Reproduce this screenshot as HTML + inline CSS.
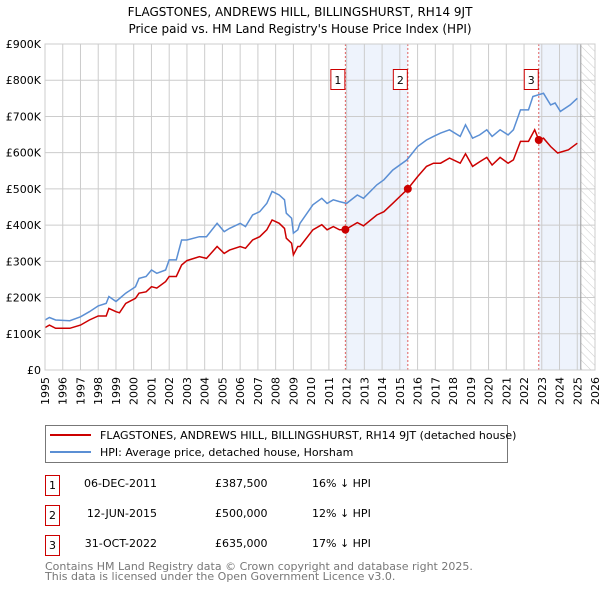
<!DOCTYPE html>
<html><head><meta charset="utf-8"><style>
body{margin:0;background:#fff;}
svg{display:block;font-family:"DejaVu Sans","Liberation Sans",sans-serif;}
</style></head><body>
<svg id="c" width="600" height="590" xmlns="http://www.w3.org/2000/svg">
<defs><pattern id="hatch" width="6" height="6" patternUnits="userSpaceOnUse" patternTransform="rotate(-45)"><line x1="0" y1="0" x2="0" y2="6" stroke="#ccc" stroke-width="1"/></pattern></defs>
<text x="300" y="16" text-anchor="middle" font-size="12">FLAGSTONES, ANDREWS HILL, BILLINGSHURST, RH14 9JT</text>
<text x="300" y="33" text-anchor="middle" font-size="12">Price paid vs. HM Land Registry's House Price Index (HPI)</text>
<g id="plot"></g>
<g>
<rect x="45.5" y="425.5" width="462" height="37" fill="#fff" stroke="#777"/>
<line x1="50" y1="435" x2="91" y2="435" stroke="#cc0000" stroke-width="2"/>
<text x="100" y="439" font-size="11">FLAGSTONES, ANDREWS HILL, BILLINGSHURST, RH14 9JT (detached house)</text>
<line x1="50" y1="452" x2="91" y2="452" stroke="#5b8fd4" stroke-width="2"/>
<text x="100" y="456" font-size="11">HPI: Average price, detached house, Horsham</text>
</g>
<g font-size="11">
<rect x="45.5" y="475.5" width="14" height="20" fill="#fff" stroke="#cc0000"/><text x="52.5" y="489" text-anchor="middle">1</text>
<text x="157" y="487" text-anchor="end">06-DEC-2011</text><text x="215" y="487">£387,500</text><text x="312" y="487">16% ↓ HPI</text>
<rect x="45.5" y="505.5" width="14" height="20" fill="#fff" stroke="#cc0000"/><text x="52.5" y="519" text-anchor="middle">2</text>
<text x="157" y="517" text-anchor="end">12-JUN-2015</text><text x="215" y="517">£500,000</text><text x="312" y="517">12% ↓ HPI</text>
<rect x="45.5" y="535.5" width="14" height="20" fill="#fff" stroke="#cc0000"/><text x="52.5" y="549" text-anchor="middle">3</text>
<text x="157" y="547" text-anchor="end">31-OCT-2022</text><text x="215" y="547">£635,000</text><text x="312" y="547">17% ↓ HPI</text>
</g>
<text x="45" y="570" font-size="11" fill="#777">Contains HM Land Registry data © Crown copyright and database right 2025.</text>
<text x="45" y="580" font-size="11" fill="#777">This data is licensed under the Open Government Licence v3.0.</text>
</svg>
<script>
const hpiYears=[1995,1995.25,1995.6,1996.4,1997,1997.5,1998,1998.45,1998.6,1999,1999.55,2000.1,2000.3,2000.7,2001,2001.3,2001.8,2002,2002.4,2002.7,2003,2003.7,2004.1,2004.7,2005.1,2005.4,2006,2006.3,2006.7,2007.1,2007.5,2007.8,2008.2,2008.5,2008.6,2008.9,2009,2009.25,2009.37,2010.1,2010.6,2010.9,2011.25,2011.6,2012,2012.6,2012.95,2013.7,2014.1,2014.6,2015.4,2016,2016.5,2016.9,2017.3,2017.8,2018.4,2018.7,2019.1,2019.5,2019.9,2020.2,2020.65,2021.1,2021.4,2021.8,2022.25,2022.5,2023.1,2023.5,2023.75,2024.05,2024.6,2025];
const hpiValues=[138,145,138,136,147,161,177,184,203,189,212,230,253,258,276,267,276,304,304,359,359,368,368,405,382,391,405,396,428,437,460,493,483,470,433,419,378,387,405,456,474,460,470,465,460,483,474,511,525,552,580,617,635,645,654,663,645,677,640,649,663,645,663,649,663,718,718,755,764,732,737,714,732,750];
const redYears=[1995,1995.25,1995.6,1996.4,1997,1997.5,1998,1998.45,1998.6,1999,1999.2,1999.55,2000.1,2000.3,2000.7,2001,2001.3,2001.8,2002,2002.4,2002.7,2003,2003.7,2004.1,2004.7,2005.1,2005.4,2006,2006.3,2006.7,2007.1,2007.5,2007.8,2008.2,2008.5,2008.6,2008.9,2009,2009.25,2009.37,2010.1,2010.6,2010.9,2011.25,2011.6,2011.93,2012.6,2012.95,2013.7,2014.1,2014.6,2015.45,2016,2016.5,2016.9,2017.3,2017.8,2018.4,2018.7,2019.1,2019.5,2019.9,2020.2,2020.65,2021.1,2021.4,2021.8,2022.25,2022.6,2022.83,2023.1,2023.5,2023.9,2024.5,2025];
const redValues=[117,124,115,115,124,138,149,149,170,161,158,184,198,212,216,230,226,244,258,258,290,302,313,308,341,322,331,341,336,359,368,387,414,405,391,364,350,318,341,341,387,401,387,396,387,387.5,407,398,428,437,460,500,534,562,571,571,585,571,597,562,575,587,566,587,571,580,631,631,663,635,640,617,599,608,626];
const saleYears=[2011.93,2015.45,2022.83];
const saleValues=[387.5,500,635];
const saleLabels=["1","2","3"];
const yTicks=[0,100,200,300,400,500,600,700,800,900];
const yTickLabels=["£0","£100K","£200K","£300K","£400K","£500K","£600K","£700K","£800K","£900K"];
const xTicks=[1995,1996,1997,1998,1999,2000,2001,2002,2003,2004,2005,2006,2007,2008,2009,2010,2011,2012,2013,2014,2015,2016,2017,2018,2019,2020,2021,2022,2023,2024,2025,2026];
const dataEnd=2025.2;
const X0=45,X1=595,Y0=370,Y1=44;
const xs=v=>X0+(v-1995)/(2026-1995)*(X1-X0);
const ys=v=>Y0-v/900*(Y0-Y1);
const NS="http://www.w3.org/2000/svg";
const g=document.getElementById('plot');
function mk(t,a,p){const e=document.createElementNS(NS,t);for(const k in a)e.setAttribute(k,a[k]);(p||g).appendChild(e);return e;}
let s1=mk('rect',{x:xs(saleYears[0]),y:Y1,width:xs(saleYears[1])-xs(saleYears[0]),height:Y0-Y1,fill:'#eef3fc'});


let s2=mk('rect',{x:xs(saleYears[2]),y:Y1,width:xs(dataEnd)-xs(saleYears[2]),height:Y0-Y1,fill:'#eef3fc'});


let h=mk('rect',{x:xs(dataEnd),y:Y1,width:X1-xs(dataEnd),height:Y0-Y1,fill:'url(#hatch)'});


yTicks.forEach((t,i)=>{
 let l=mk('line',{x1:X0,x2:X1,y1:ys(t),y2:ys(t),stroke:'#ccc'});
 
 
 let tx=mk('text',{x:X0-4,y:ys(t)+4,'text-anchor':'end','font-size':11});
 
 
 tx.textContent=yTickLabels[i];
});
xTicks.forEach(t=>{
 let l=mk('line',{x1:xs(t),x2:xs(t),y1:Y1,y2:Y0,stroke:'#ccc'});
 
 
 const px=xs(t)+4, py=377;
 let tx=mk('text',{x:px,y:py,'text-anchor':'end','font-size':11,transform:'rotate(-90 '+px+' '+py+')'});
 
 
 tx.textContent=t;
});
let ed=mk('line',{x1:xs(dataEnd),x2:xs(dataEnd),y1:Y1,y2:Y0,stroke:'#999'});


saleYears.forEach((y,i)=>{
 let l=mk('line',{x1:xs(y),x2:xs(y),y1:Y1,y2:Y0,stroke:'#e06060','stroke-dasharray':'2,2'});
 
 
});
function path(xsA,vsA,col,name){
 let d=xsA.map((x,i)=>(i?'L':'M')+xs(x).toFixed(1)+','+ys(vsA[i]).toFixed(1)).join('');
 let p=mk('path',{d:d,fill:'none',stroke:col,'stroke-width':1.5});
 
 
}
path(hpiYears,hpiValues,'#5b8fd4','hpi-line');
path(redYears,redValues,'#cc0000','price-paid-line');
saleYears.forEach((y,i)=>{
 let c=mk('circle',{cx:xs(y),cy:ys(saleValues[i]),r:4,fill:'#cc0000'});
 
 
 let r=mk('rect',{x:xs(y)-14.5,y:69.5,width:14,height:20,fill:'#fff',stroke:'#cc0000'});
 
 
 let t=mk('text',{x:xs(y)-7.5,y:84,'text-anchor':'middle','font-size':11});
 
 
 t.textContent=saleLabels[i];
});
let fr=mk('rect',{x:X0,y:Y1,width:X1-X0,height:Y0-Y1,fill:'none',stroke:'#ccc'});


</script>
</body></html>
